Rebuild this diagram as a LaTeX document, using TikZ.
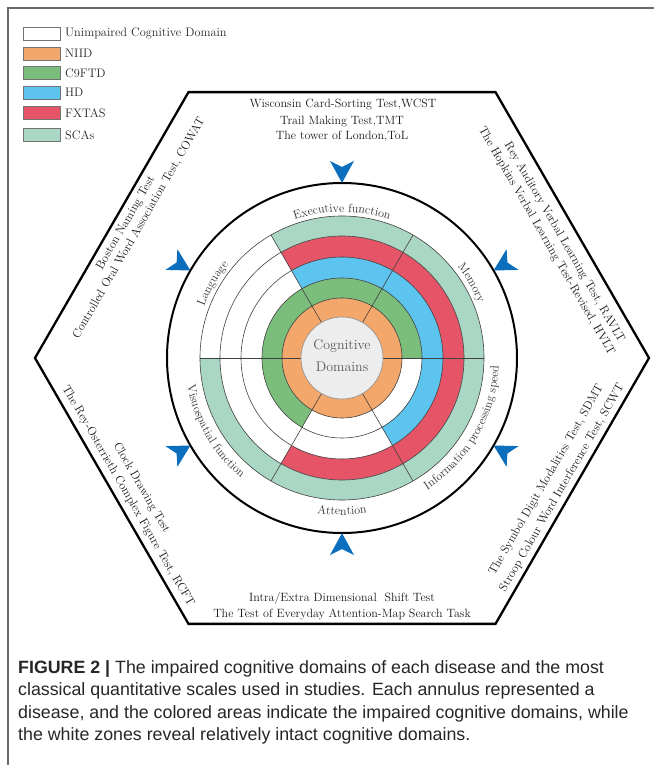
\documentclass[tikz,border=0pt]{standalone}
\usepackage{fontspec}
\newfontfamily\capfont{Liberation Sans}
\usetikzlibrary{decorations.text,calc}
\definecolor{niid}{HTML}{F4A76A}
\definecolor{cnine}{HTML}{7BBD7B}
\definecolor{hdblue}{HTML}{5CC4EF}
\definecolor{fxtas}{HTML}{E55467}
\definecolor{scas}{HTML}{AAD6C4}
\definecolor{centergray}{HTML}{EDEDED}
\definecolor{arrowblue}{HTML}{0B6FBE}
\definecolor{framegray}{HTML}{6A6A6A}
\newcommand\annsec[5]{%
  \fill[#1] (#4:#2) arc[start angle=#4, end angle=#5, radius=#2pt] -- (#5:#3) arc[start angle=#5, end angle=#4, radius=#3pt] -- cycle;}
\newcommand\domfnt{\fontsize{12}{12}\selectfont}
\tikzset{
  ringline/.style={draw=black!75, line width=0.6pt},
  testtxt/.style={font=\fontsize{12}{14}\selectfont, text=black!90, inner sep=0pt},
  legbox/.style={draw=black!55, line width=0.7pt, minimum width=37pt, minimum height=13pt, inner sep=0pt},
  legtxt/.style={font=\fontsize{12.3}{14}\selectfont, anchor=west, inner sep=0pt, text=black!85},
  captxt/.style={font=\capfont\fontsize{17.8}{22}\selectfont, anchor=base west, inner sep=0pt, text=black!85},
  toplabel/.style={decorate, decoration={text along path, text align=center, text color=black!80}},
}
\begin{document}
\begin{tikzpicture}[x=1pt,y=1pt]
\useasboundingbox (-342,-407) rectangle (312,358);
% frame
\draw[framegray, line width=1.5pt] (-334,-407) -- (-334,350) -- (312,350);
% legend
\node[legbox, fill=white]  (k0) at (-300.5,324.5) {};
\node[legbox, fill=niid]   (k1) at (-300.5,304.5) {};
\node[legbox, fill=cnine]  (k2) at (-300.5,285) {};
\node[legbox, fill=hdblue] (k3) at (-300.5,265.5) {};
\node[legbox, fill=fxtas]  (k4) at (-300.5,245) {};
\node[legbox, fill=scas]   (k5) at (-300.5,223) {};
\node[legtxt] (k0t) at (-277,324.5) {Unimpaired Cognitive Domain};
\node[legtxt] (k1t) at (-277,304.5) {NIID};
\node[legtxt] (k2t) at (-277,285) {C9FTD};
\node[legtxt] (k3t) at (-277,265.5) {HD};
\node[legtxt] (k4t) at (-277,245) {FXTAS};
\node[legtxt] (k5t) at (-277,223) {SCAs};
% hexagon
\draw[line width=2.3pt, line join=miter] (0:307) -- (60:307) -- (120:307) -- (180:307) -- (240:307) -- (300:307) -- cycle;
% rings
\annsec{niid}{41}{60}{0}{360}
\annsec{cnine}{60}{80}{0}{240}
\annsec{hdblue}{80}{101}{-60}{120}
\annsec{fxtas}{101}{122}{-120}{120}
\annsec{scas}{122}{142}{-180}{120}
\foreach \r in {60,80,101,122,142} \draw[ringline] (0,0) circle[radius=\r pt];
\foreach \a in {0,60,...,300} \draw[ringline] (\a:41) -- (\a:142);
\node[circle, minimum size=82pt, inner sep=0pt, fill=centergray, draw=black!45, line width=0.6pt] (core) at (0,0) {};
\node[align=center, font=\fontsize{14}{22}\selectfont, text=black!65, inner sep=0pt] (coretxt) at (0,2) {Cognitive\\Domains};
% outer circle
\draw[line width=2pt] (0,0) circle[radius=175pt];
% arrows
\foreach \a in {30,90,...,330}
  \fill[arrowblue, rotate=\a] (175,0) -- (197,12) -- (191,0) -- (197,-12) -- cycle;
% domain labels
\path[toplabel, decoration={text={|\domfnt|Executive function}}] (135:146) arc[start angle=135, end angle=45, radius=146pt];
\path[toplabel, decoration={text={|\domfnt|Memory}}] (75:147) arc[start angle=75, end angle=-15, radius=147pt];
\path[toplabel, decoration={text={|\domfnt|Language}}] (195:147) arc[start angle=195, end angle=105, radius=147pt];
\path[toplabel, decoration={text={|\domfnt|Information processing speed}}] (-75:157) arc[start angle=-75, end angle=15, radius=157pt];
\path[toplabel, decoration={text={|\domfnt|Attention}}] (225:157) arc[start angle=225, end angle=315, radius=157pt];
\path[toplabel, decoration={text={|\domfnt|Visuospatial function}}] (165:157) arc[start angle=165, end angle=255, radius=157pt];
% test texts
\node[testtxt] (t1) at (1,253) {Wisconsin Card-Sorting Test,WCST};
\node[testtxt] (t2) at (0,236.5) {Trail Making Test,TMT};
\node[testtxt] (t3) at (0,221.5) {The tower of London,ToL};
\node[testtxt, rotate=60] (l1) at (-216,135) {Boston Naming Test};
\node[testtxt, rotate=60] (l2) at (-203,130) {Controlled Oral Word Association Test, COWAT};
\node[testtxt, rotate=-60] (r1) at (222.4,115.7) {Rey Auditory Verbal Learning Test, RAVLT};
\node[testtxt, rotate=-60] (r2) at (204.4,116.9) {The Hopkins Verbal Learning Test-Revised, HVLT};
\node[testtxt, rotate=-60] (bl1) at (-200.5,-130) {Clock Drawing Test};
\node[testtxt, rotate=-60] (bl2) at (-214,-138) {The Rey-Osterrieth Complex Figure Test, RCFT};
\node[testtxt, rotate=60] (br1) at (204.5,-122) {The Symbol Digit Modalities Test, SDMT};
\node[testtxt, rotate=60] (br2) at (220,-130) {Stroop Colour Word Interference Test, SCWT};
\node[testtxt] (b1) at (0,-240) {Intra/Extra Dimensional\ \ Shift Test};
\node[testtxt] (b2) at (0,-256) {The Test of Everyday Attention-Map Search Task};
% caption
\node[captxt] (c1) at (-324,-315) {\textbf{FIGURE 2 |} The impaired cognitive domains of each disease and the most};
\node[captxt] (c2) at (-324,-337) {classical quantitative scales used in studies. Each annulus represented a};
\node[captxt] (c3) at (-324,-360) {disease, and the colored areas indicate the impaired cognitive domains, while};
\node[captxt] (c4) at (-324,-382) {the white zones reveal relatively intact cognitive domains.};
\end{tikzpicture}
\end{document}
